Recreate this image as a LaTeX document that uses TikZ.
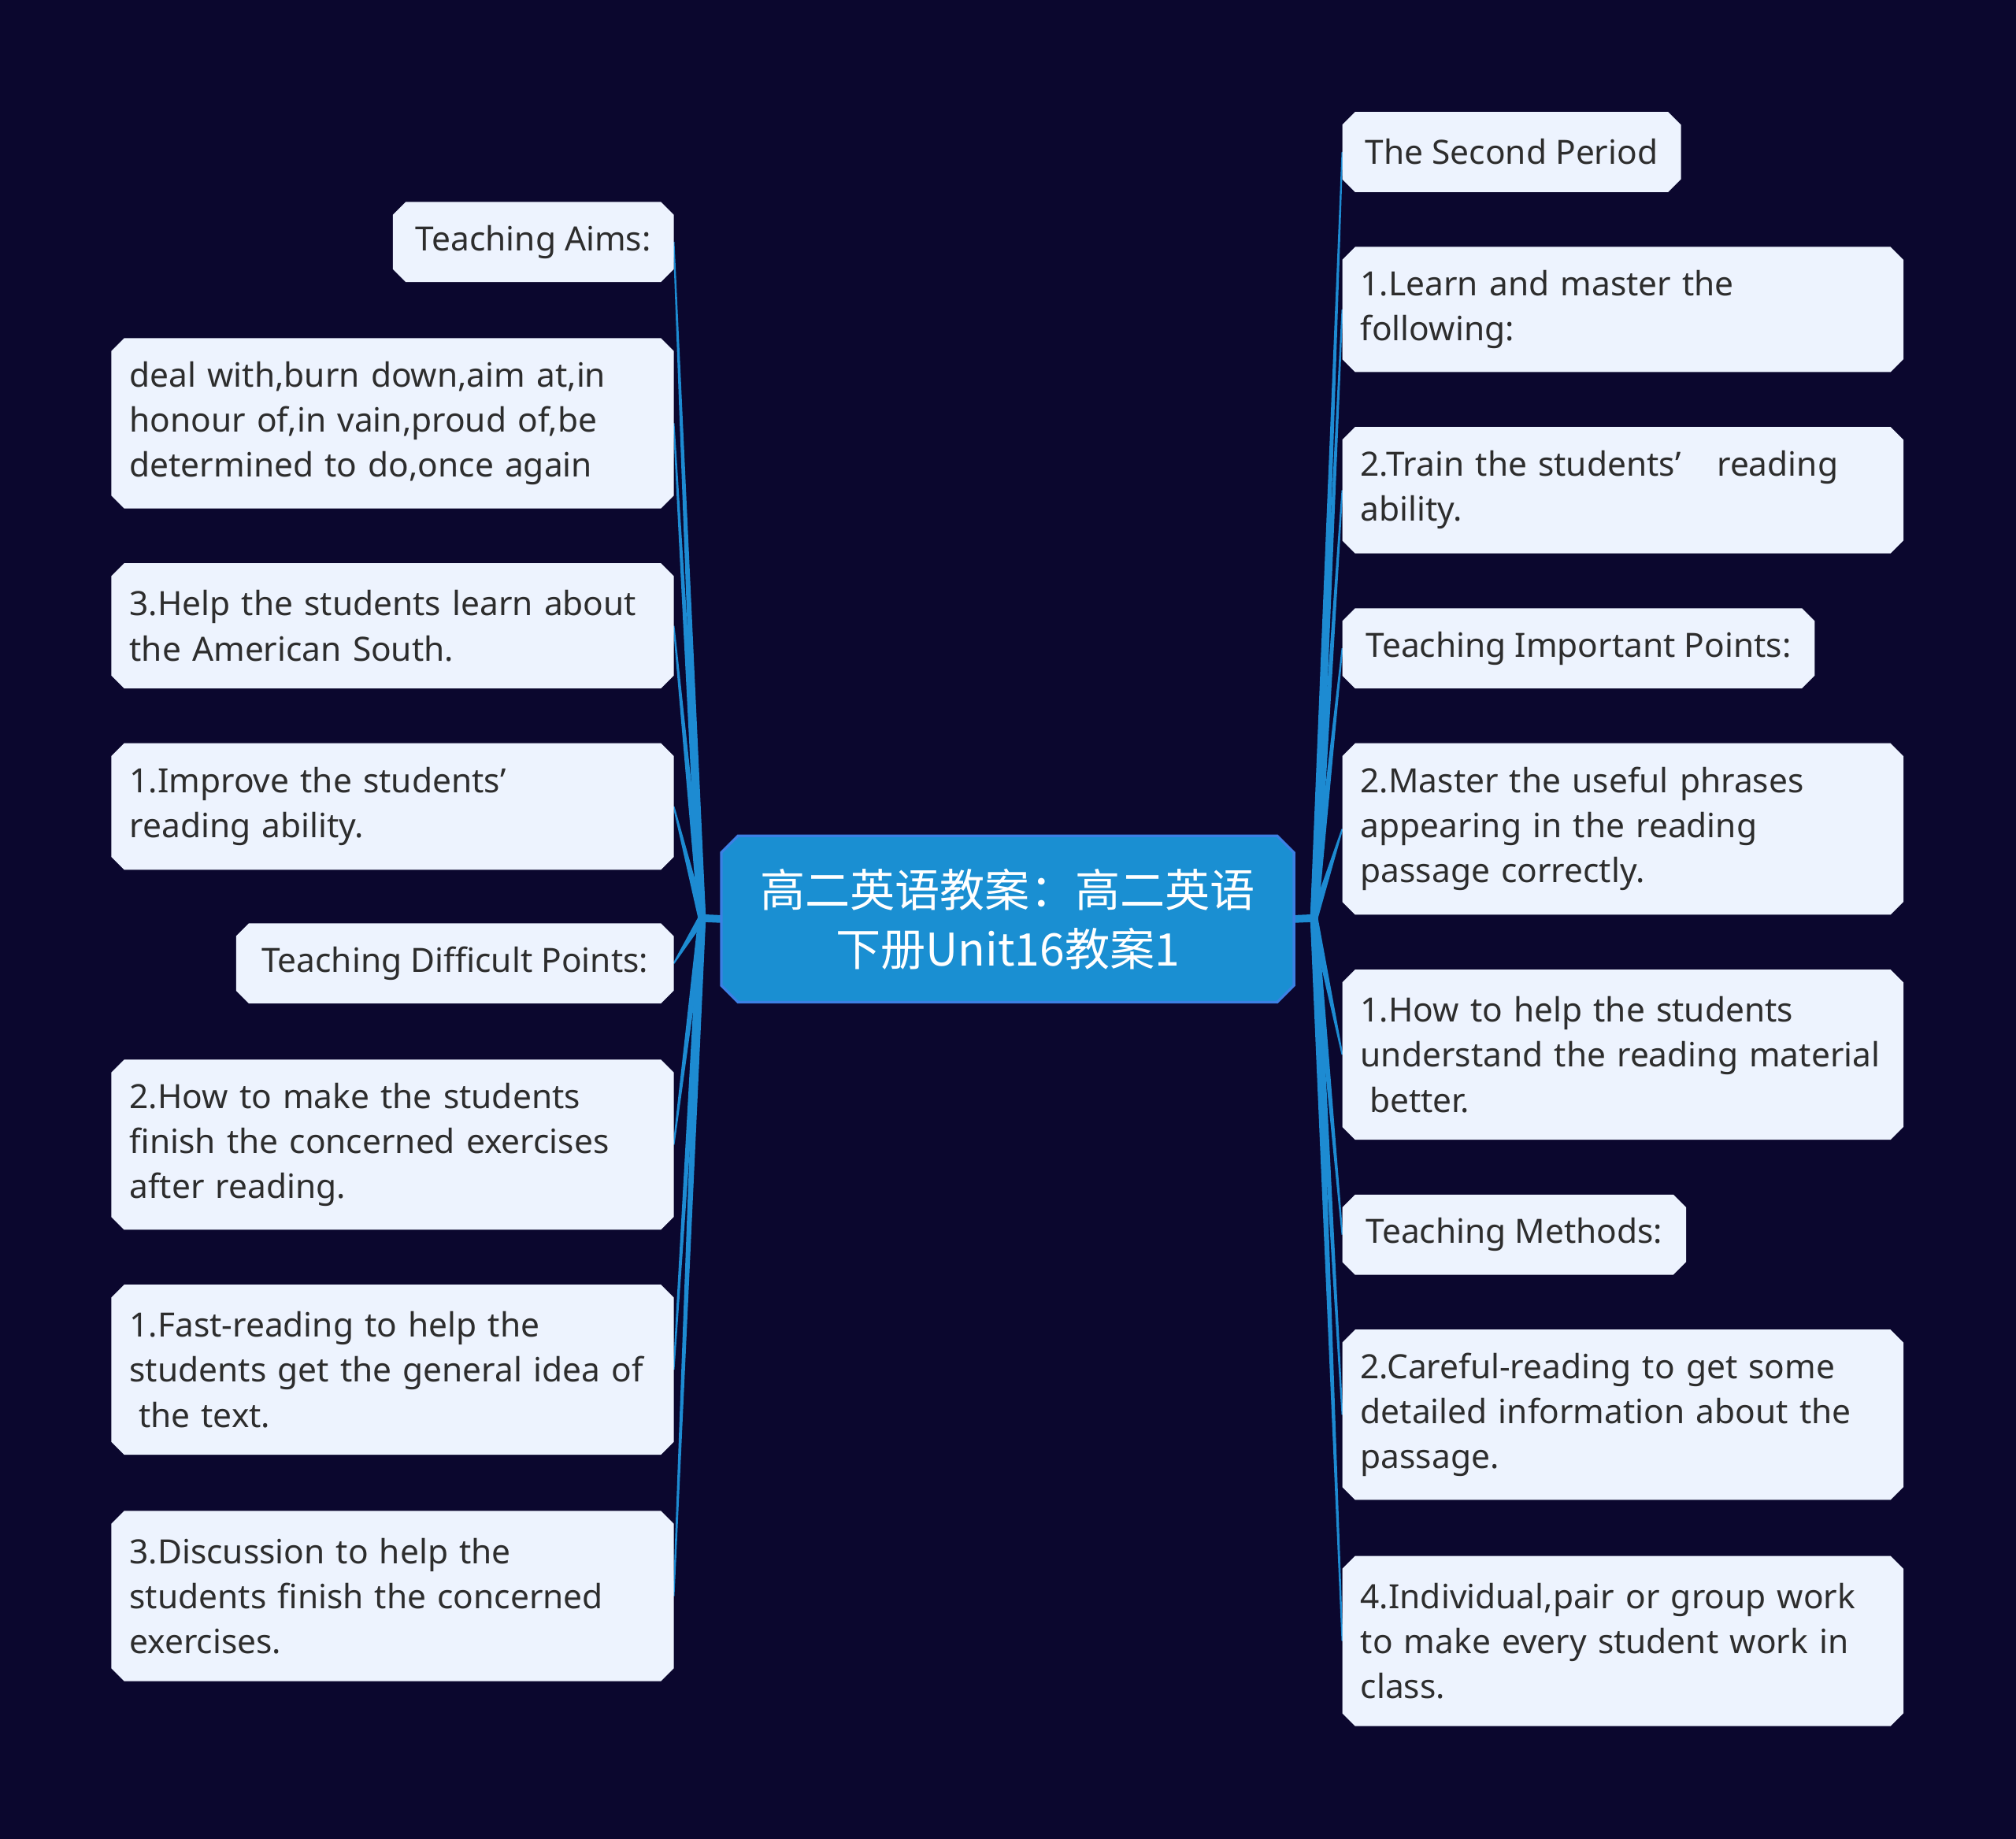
\documentclass[tikz,border=0pt]{standalone}
\usepackage{fontspec}
\setmainfont{Noto Sans}
\newfontfamily\cjkfont{Noto Sans CJK SC}
\usetikzlibrary{calc,backgrounds}
\definecolor{bgc}{RGB}{11,7,46}
\definecolor{boxc}{RGB}{237,243,254}
\definecolor{txtc}{RGB}{45,45,45}
\definecolor{linec}{RGB}{29,139,210}
\definecolor{rootc}{RGB}{26,143,210}
\definecolor{rootb}{RGB}{60,128,228}
\newcommand\mmchamf[3]{%
  \path[#3] ([xshift=#2]#1.north west) -- ([xshift=-#2]#1.north east) -- ([yshift=-#2]#1.north east)
   -- ([yshift=#2]#1.south east) -- ([xshift=-#2]#1.south east) -- ([xshift=#2]#1.south west)
   -- ([yshift=#2]#1.south west) -- ([yshift=-#2]#1.north west) -- cycle;}
\newcommand\mmlink[2]{%
  \fill[linec] ($(#1)!3pt!90:(#2)$) -- ($(#2)!0.6pt!-90:(#1)$) -- ($(#2)!0.6pt!90:(#1)$) -- ($(#1)!3pt!-90:(#2)$) -- cycle;}
\tikzset{
  mm/.style={rectangle, inner xsep=14pt, inner ysep=0pt, align=left, text=txtc,
     font=\fontsize{26}{35}\selectfont},
  mml/.style={mm, anchor=north east, text width=409pt, minimum height=#1},
  mmr/.style={mm, anchor=north west, text width=408pt, minimum height=#1},
  mmsl/.style={mm, anchor=north east, minimum width=#1, minimum height=62pt},
  mmsr/.style={mm, anchor=north west, minimum width=#1, minimum height=62pt},
}
\begin{document}
\begin{tikzpicture}[x=1pt,y=-1pt]
\useasboundingbox (0,0) rectangle (1568,1430);
% root
\node[inner sep=0pt, minimum width=445pt, minimum height=129pt, anchor=north west, align=center,
  text=white, font=\cjkfont\fontsize{35}{46}\selectfont] (root) at (561,650)
  {高二英语教案：高二英语\\下册Unit16教案1};
% left nodes
\node[mmsl=218pt] (L1) at (524,157) {Teaching Aims:};
\node[mml=132pt] (L2) at (524,263) {deal with,burn down,aim at,in\\honour of,in vain,proud of,be\\determined to do,once again};
\node[mml=97pt] (L3) at (524,438) {3.Help the students learn about\\the American South.};
\node[mml=98pt] (L4) at (524,578) {1.Improve the students’\\reading ability.};
\node[mmsl=340pt] (L5) at (524,718) {Teaching Difficult Points:};
\node[mml=132pt] (L6) at (524,824) {2.How to make the students\\finish the concerned exercises\\after reading.};
\node[mml=132pt] (L7) at (524,999) {1.Fast-reading to help the\\\mbox{students get the general idea of}\\\hspace*{7pt}the text.};
\node[mml=132pt] (L8) at (524,1175) {3.Discussion to help the\\students finish the concerned\\exercises.};
% right nodes
\node[mmsr=263pt] (R1) at (1044,87) {The Second Period};
\node[mmr=97pt] (R2) at (1044,192) {1.Learn and master the\\following:};
\node[mmr=98pt] (R3) at (1044,332) {2.Train the students’\hspace{28pt}reading\\ability.};
\node[mmsr=367pt] (R4) at (1044,473) {Teaching Important Points:};
\node[mmr=133pt] (R5) at (1044,578) {2.Master the useful phrases\\appearing in the reading\\passage correctly.};
\node[mmr=132pt] (R6) at (1044,754) {1.How to help the students\\\mbox{understand the reading material}\\\hspace*{7pt}better.};
\node[mmsr=267pt] (R7) at (1044,929) {Teaching Methods:};
\node[mmr=132pt] (R8) at (1044,1034) {2.Careful-reading to get some\\\mbox{detailed information about the}\\passage.};
\node[mmr=132pt] (R9) at (1044,1210) {4.Individual,pair or group work\\to make every student work in\\class.};
\coordinate (jl) at (546,714);
\coordinate (jr) at (1022,714);
\begin{pgfonlayer}{background}
\fill[bgc] (0,0) rectangle (1568,1430);
\draw[linec, line width=6pt] (root.west) -- (jl);
\draw[linec, line width=6pt] (root.east) -- (jr);
\foreach \n in {L1,L2,L3,L4,L5,L6,L7,L8} {\mmlink{jl}{\n.east}}
\foreach \n in {R1,R2,R3,R4,R5,R6,R7,R8,R9} {\mmlink{jr}{\n.west}}
\mmchamf{root}{13pt}{fill=rootc, draw=rootb, line width=2pt}
\foreach \n in {L1,L2,L3,L4,L5,L6,L7,L8,R1,R2,R3,R4,R5,R6,R7,R8,R9} {\mmchamf{\n}{10pt}{fill=boxc}}
\end{pgfonlayer}
\end{tikzpicture}
\end{document}
